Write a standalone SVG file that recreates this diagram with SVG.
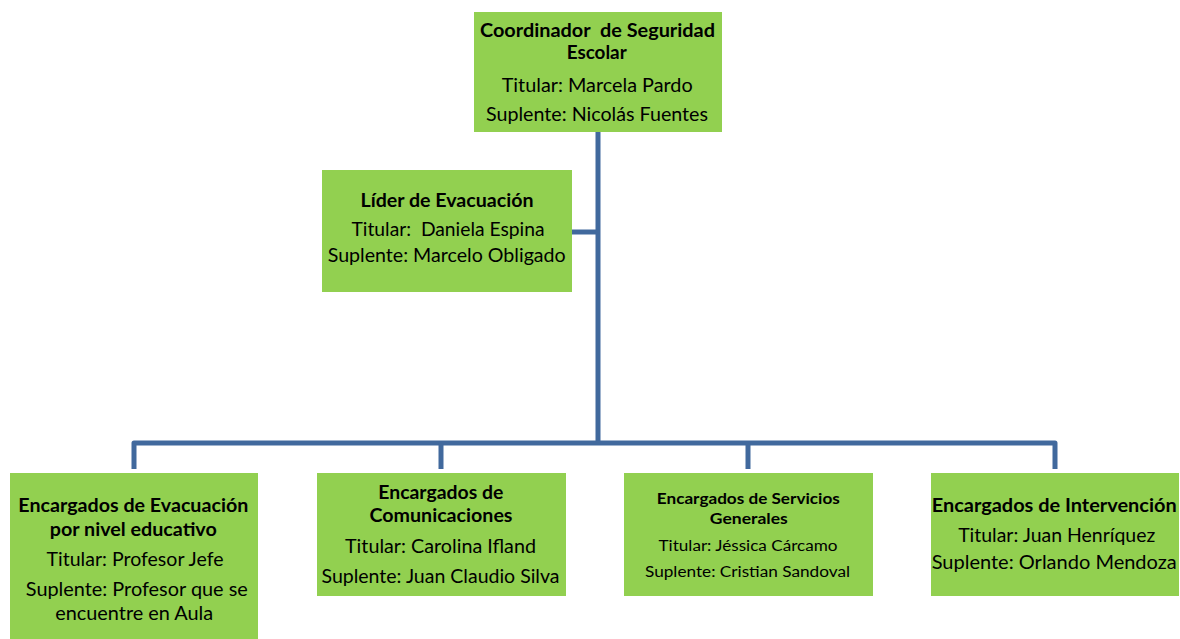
<svg xmlns="http://www.w3.org/2000/svg" width="1180" height="639" viewBox="0 0 1180 639">
<style>
.box{fill:#92D050;}
.t{font-family:Lato,"Open Sans","Liberation Sans",sans-serif;font-size:18.5px;fill:#000;text-anchor:middle;white-space:pre;}
.b{font-weight:bold;}
.s{font-size:15.5px;}
.c{fill:none;stroke:#41699D;stroke-width:5;stroke-linejoin:round;}
</style>
<rect width="1180" height="639" fill="#fff"/>
<g id="connectors">
<path class="c" d="M598,131 V443"/>
<path class="c" d="M572,232 H598"/>
<path class="c" d="M134,469 V443 H1055 V469"/>
<path class="c" d="M441,443 V469"/>
<path class="c" d="M748,443 V469"/>
</g>
<g id="coordinador">
<rect class="box" x="474" y="12" width="248" height="120"/>
<text class="t b" x="597.5" y="37" textLength="235" lengthAdjust="spacingAndGlyphs" xml:space="preserve">Coordinador  de Seguridad</text>
<text class="t b" x="596.7" y="59" textLength="60" lengthAdjust="spacingAndGlyphs">Escolar</text>
<text class="t" x="597.2" y="91.5" textLength="191" lengthAdjust="spacingAndGlyphs">Titular: Marcela Pardo</text>
<text class="t" x="597" y="120.5" textLength="222" lengthAdjust="spacingAndGlyphs">Suplente: Nicolás Fuentes</text>
</g>
<g id="lider">
<rect class="box" x="322" y="170" width="250" height="122"/>
<text class="t b" x="447" y="206.5" textLength="173" lengthAdjust="spacingAndGlyphs">Líder de Evacuación</text>
<text class="t" x="448" y="235.5" textLength="193" lengthAdjust="spacingAndGlyphs" xml:space="preserve">Titular:  Daniela Espina</text>
<text class="t" x="446.7" y="262" textLength="238" lengthAdjust="spacingAndGlyphs">Suplente: Marcelo Obligado</text>
</g>
<g id="evacuacion-nivel">
<rect class="box" x="10" y="473" width="248" height="166"/>
<text class="t b" x="133.3" y="511.5" textLength="230" lengthAdjust="spacingAndGlyphs">Encargados de Evacuación</text>
<text class="t b" x="133.3" y="535.5" textLength="167" lengthAdjust="spacingAndGlyphs">por nivel educativo</text>
<text class="t" x="135" y="566" textLength="177" lengthAdjust="spacingAndGlyphs">Titular: Profesor Jefe</text>
<text class="t" x="136.8" y="596" textLength="222" lengthAdjust="spacingAndGlyphs">Suplente: Profesor que se</text>
<text class="t" x="134.2" y="620" textLength="158" lengthAdjust="spacingAndGlyphs">encuentre en Aula</text>
</g>
<g id="comunicaciones">
<rect class="box" x="317" y="473" width="249" height="123"/>
<text class="t b" x="440.8" y="498.5" textLength="125" lengthAdjust="spacingAndGlyphs">Encargados de</text>
<text class="t b" x="441" y="522" textLength="143" lengthAdjust="spacingAndGlyphs">Comunicaciones</text>
<text class="t" x="440.5" y="553" textLength="191" lengthAdjust="spacingAndGlyphs">Titular: Carolina Ifland</text>
<text class="t" x="440.5" y="583" textLength="238" lengthAdjust="spacingAndGlyphs">Suplente: Juan Claudio Silva</text>
</g>
<g id="servicios-generales">
<rect class="box" x="624" y="473" width="249" height="123"/>
<text class="t b s" x="748.3" y="504" textLength="183" lengthAdjust="spacingAndGlyphs">Encargados de Servicios</text>
<text class="t b s" x="748.8" y="523.5" textLength="78" lengthAdjust="spacingAndGlyphs">Generales</text>
<text class="t s" x="748" y="550.5" textLength="179" lengthAdjust="spacingAndGlyphs">Titular: Jéssica Cárcamo</text>
<text class="t s" x="747.5" y="577" textLength="205" lengthAdjust="spacingAndGlyphs">Suplente: Cristian Sandoval</text>
</g>
<g id="intervencion">
<rect class="box" x="931" y="473" width="248" height="123"/>
<text class="t b" x="1054.2" y="511.5" textLength="245" lengthAdjust="spacingAndGlyphs">Encargados de Intervención</text>
<text class="t" x="1056.7" y="541.5" textLength="197" lengthAdjust="spacingAndGlyphs">Titular: Juan Henríquez</text>
<text class="t" x="1054.2" y="568.5" textLength="245" lengthAdjust="spacingAndGlyphs">Suplente: Orlando Mendoza</text>
</g>
</svg>
